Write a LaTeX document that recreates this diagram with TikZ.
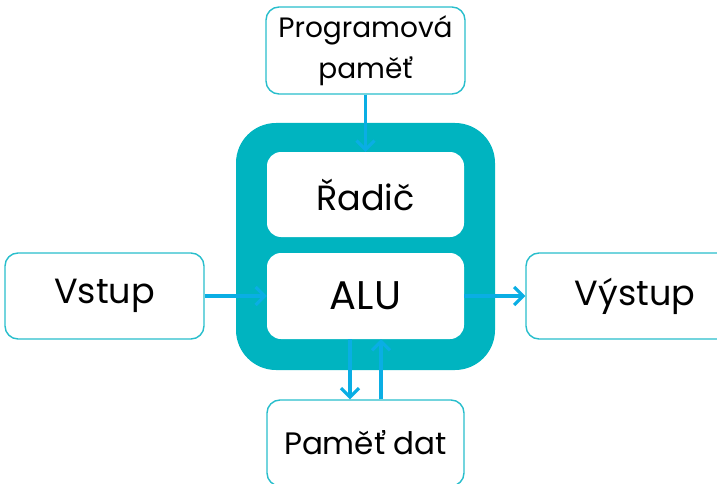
\documentclass[tikz,border=0pt]{standalone}
\usepackage{fontspec}
\setmainfont{Poppins}
\usetikzlibrary{arrows.meta}
\definecolor{tealbig}{RGB}{0,180,192}
\definecolor{boxline}{RGB}{40,190,204}
\definecolor{arrowc}{RGB}{10,174,228}
\tikzset{
  outerbox/.style={draw=boxline, line width=1.4pt, fill=white, rounded corners=13pt, inner sep=0pt, text=black},
  innerbox/.style={fill=white, rounded corners=14pt, inner sep=0pt, text=black},
  bigfont/.style={font=\fontsize{35}{40}\selectfont},
  alufont/.style={font=\fontsize{40}{44}\selectfont},
  smallfont/.style={font=\fontsize{28}{41}\selectfont},
  datfont/.style={font=\fontsize{31}{36}\selectfont},
  conn/.style={draw=arrowc, line width=3.4pt, -{Straight Barb[length=9pt,width=18pt,line width=3.2pt]}},
}
\begin{document}
\begin{tikzpicture}[x=1pt,y=-1pt]
\useasboundingbox (0,0) rectangle (717,484);
\fill[tealbig, rounded corners=40pt] (236,123) rectangle (495,370);
\node[outerbox, smallfont, minimum width=199pt, minimum height=87pt, align=center] (prog) at (365.5,50.5) {Programová\\paměť};
\node[innerbox, bigfont, minimum width=197pt, minimum height=85pt] (radic) at (365.5,194.5) {Řadič};
\node[innerbox, alufont, minimum width=197pt, minimum height=86pt] (alu) at (365.5,296) {ALU};
\node[outerbox, bigfont, minimum width=199pt, minimum height=86pt] (vstup) at (104.5,296) {Vstup};
\node[outerbox, bigfont, minimum width=218pt, minimum height=86pt] (vystup) at (635,296) {Výstup};
\node[outerbox, datfont, minimum width=197pt, minimum height=86pt] (pamet) at (365.5,443) {Paměť dat};
\draw[conn] (prog.south) -- (radic.north);
\draw[conn] (vstup.east) -- (alu.west);
\draw[conn] (alu.east) -- (vystup.west);
\draw[conn] ([xshift=-15.5pt]alu.south) -- ([xshift=-15.5pt]pamet.north);
\draw[conn] ([xshift=15.5pt]pamet.north) -- ([xshift=15.5pt]alu.south);
\end{tikzpicture}
\end{document}
